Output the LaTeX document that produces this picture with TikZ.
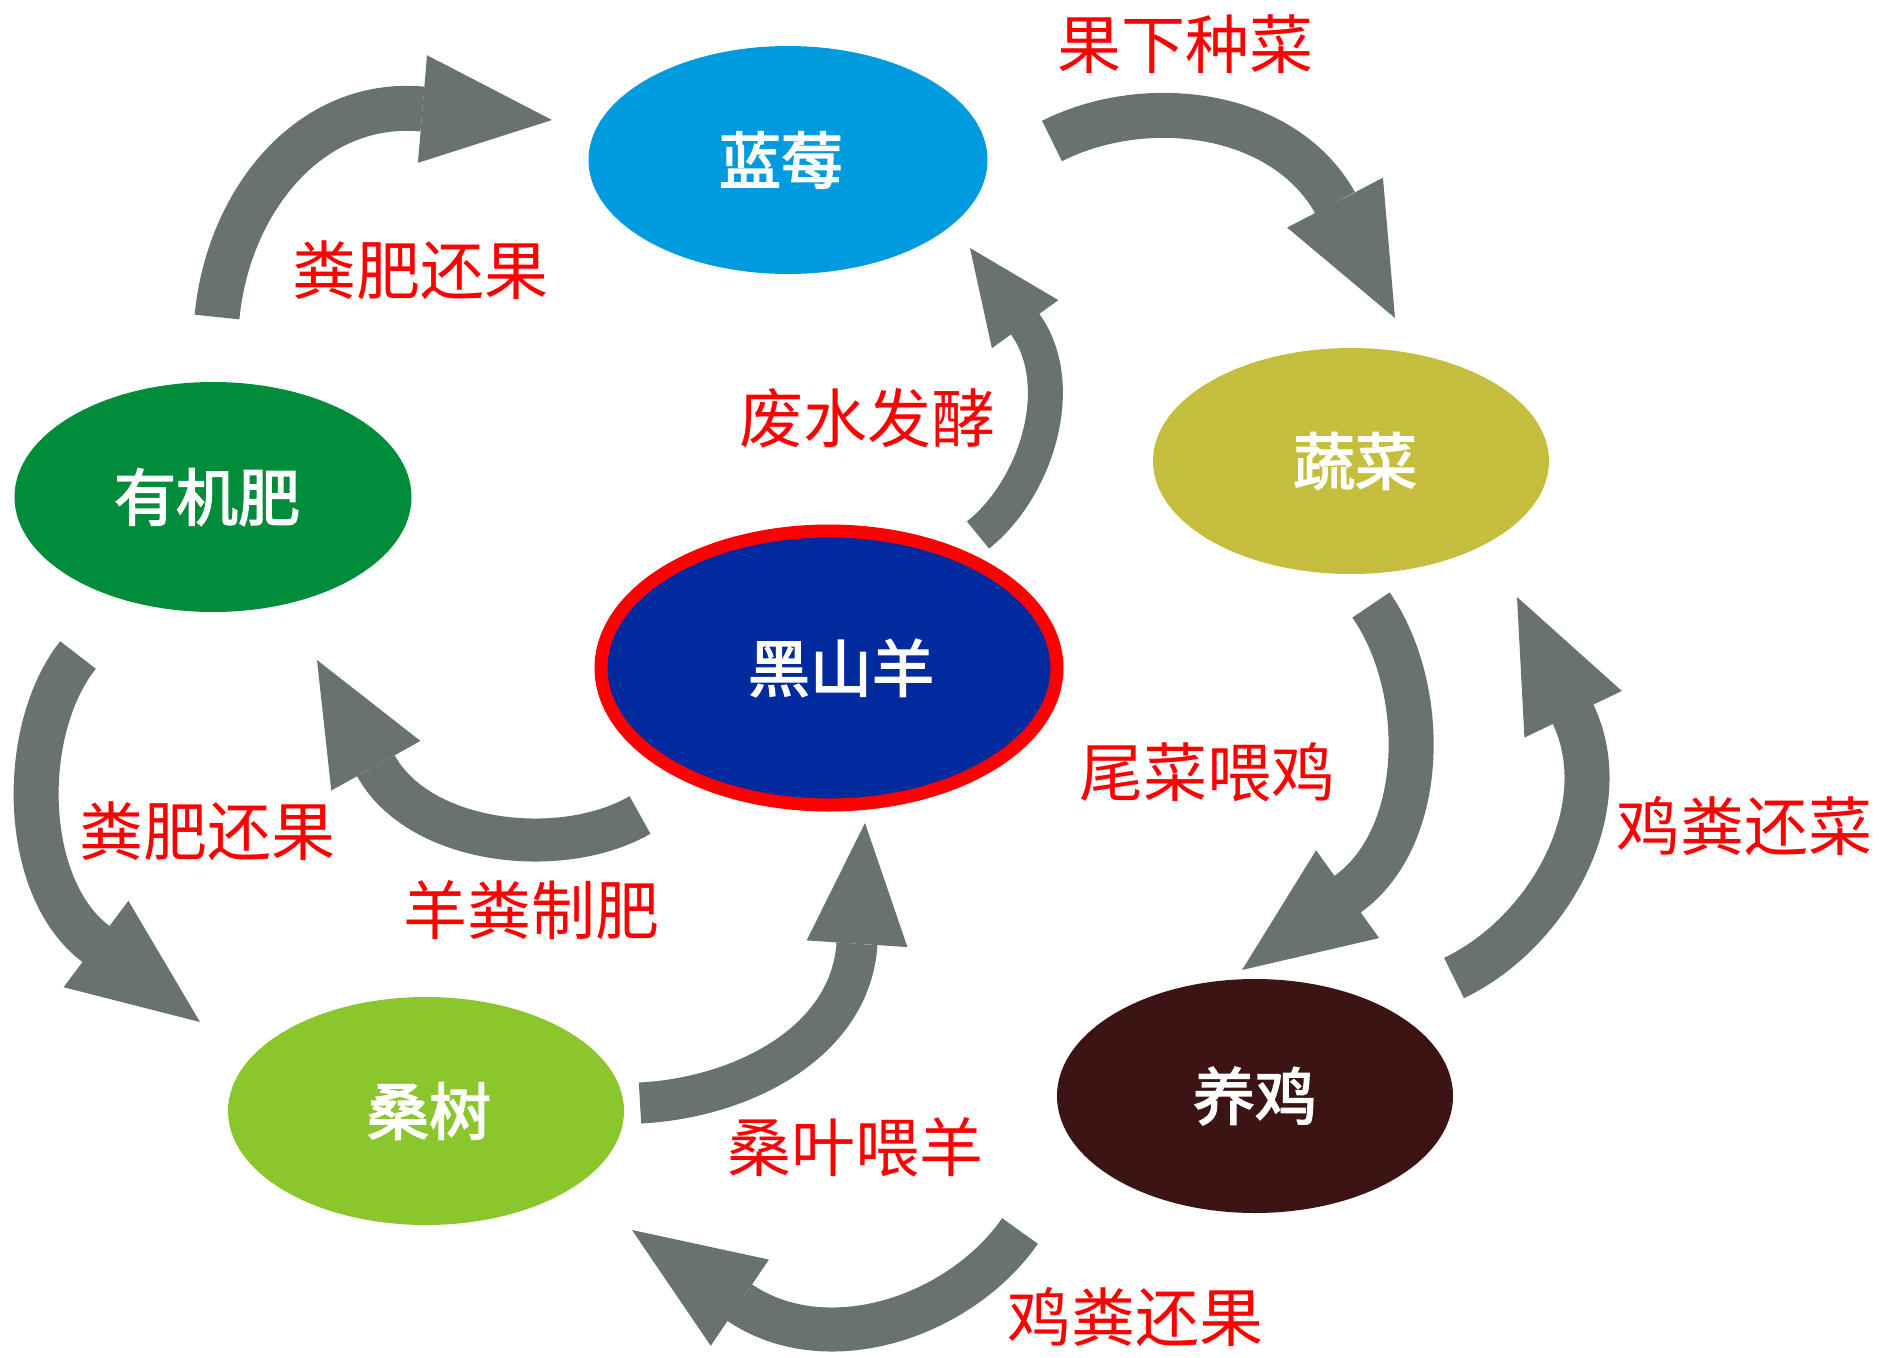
\documentclass[tikz,border=0pt]{standalone}
\usepackage{fontspec}
\newfontfamily\cjk{Noto Sans CJK SC}
\newfontfamily\cjkm{Noto Sans CJK SC}[FakeBold=2.6]
\usetikzlibrary{arrows.meta,shapes.geometric}
\definecolor{agray}{RGB}{104,114,111}
\definecolor{cBlue}{RGB}{0,155,223}
\definecolor{cOlive}{RGB}{197,189,62}
\definecolor{cGreen}{RGB}{0,140,58}
\definecolor{cNavy}{RGB}{0,42,158}
\definecolor{cLeaf}{RGB}{140,198,45}
\definecolor{cBrown}{RGB}{60,20,20}
\begin{document}
\begin{tikzpicture}[x=1pt,y=-1pt,
  blob/.style={ellipse, inner sep=0pt, text=white, font=\cjkm\fontsize{62}{70}\selectfont},
  lbl/.style={text=red, inner sep=0pt, font=\cjk\fontsize{64}{70}\selectfont},
  bigarrow/.style={draw=agray, line width=45pt, -{Triangle[length=130pt,width=108pt,line width=0pt]}},
]
\fill[white] (0,0) rectangle (1883,1358);
\useasboundingbox (0,0) rectangle (1883,1358);

% nodes
\node[blob, fill=cBlue,  minimum width=399pt, minimum height=228pt] (lanmei) at (788,160) {蓝莓\hspace*{14pt}};
\node[blob, fill=cOlive, minimum width=396pt, minimum height=226pt] (shucai) at (1351,461) {\hspace*{8pt}蔬菜};
\node[blob, fill=cGreen, minimum width=397pt, minimum height=230pt] (youji) at (213,497) {有机肥\hspace*{12pt}};
\node[blob, fill=cNavy, draw=red, line width=13pt, minimum width=456pt, minimum height=274pt] (yang) at (829,668) {\hspace*{24pt}黑山羊};
\node[blob, fill=cLeaf,  minimum width=396pt, minimum height=228pt] (sang) at (426,1111) {\hspace*{6pt}桑树};
\node[blob, fill=cBrown, minimum width=396pt, minimum height=234pt] (ji) at (1255,1096) {养鸡};

% arrow end points (tail, base of head, tip)
\coordinate (a1s) at (217,317);   \coordinate (a1b) at (422,109);    \coordinate (a1e) at (552,120);
\coordinate (a2s) at (1052,141);  \coordinate (a2b) at (1335,202.6); \coordinate (a2e) at (1395,318);
\coordinate (a3s) at (78,655);    \coordinate (a3b) at (96,944);     \coordinate (a3e) at (200,1022);
\coordinate (a4s) at (1371,605);  \coordinate (a4b) at (1347,894.6); \coordinate (a4e) at (1242,970);
\coordinate (a5s) at (1454,978);  \coordinate (a5b) at (1573,714);   \coordinate (a5e) at (1517,597);
\coordinate (a6s) at (1020,1231); \coordinate (a6b) at (740,1302.8); \coordinate (a6e) at (632,1230);
\coordinate (a7s) at (978,535);   \coordinate (a7b) at (1025,324);   \coordinate (a7e) at (970,248);
\coordinate (a8s) at (640,815);   \coordinate (a8b) at (376,766);    \coordinate (a8e) at (317,660);
\coordinate (a9s) at (640,1103);  \coordinate (a9b) at (857,943.8);  \coordinate (a9e) at (865,823);

% arrows
\draw[bigarrow] (a1s) .. controls (228,202) and (309,99) .. (a1b) -- (a1e);
\draw[bigarrow] (a2s) .. controls (1145,94) and (1283,110) .. (a2b) -- (a2e);
\draw[bigarrow] (a3s) .. controls (19,729) and (20,887) .. (a3b) -- (a3e);
\draw[bigarrow] (a4s) .. controls (1428,687) and (1428,837) .. (a4b) -- (a4e);
\draw[bigarrow] (a5s) .. controls (1548.5,933) and (1618,808.5) .. (a5b) -- (a5e);
\draw[bigarrow, line width=44pt, -{Triangle[length=130pt,width=104pt,line width=0pt]}] (a6s) .. controls (960,1317) and (827,1361.6) .. (a6b) -- (a6e);
\draw[bigarrow, line width=35pt, -{Triangle[length=94pt,width=82pt,line width=0pt]}] (a7s) .. controls (1036.5,488.5) and (1069,384.75) .. (a7b) -- (a7e);
\draw[bigarrow, line width=43pt, -{Triangle[length=121pt,width=102pt,line width=0pt]}] (a8s) .. controls (561.7,860) and (419.8,844.7) .. (a8b) -- (a8e);
\draw[bigarrow, line width=41pt, -{Triangle[length=121pt,width=101pt,line width=0pt]}] (a9s) .. controls (740,1098) and (850.4,1043.6) .. (a9b) -- (a9e);

% labels
\node[lbl] (l1) at (1185,44)  {果下种菜};
\node[lbl] (l2) at (420,270)  {粪肥还果};
\node[lbl] (l3) at (867,418)  {废水发酵};
\node[lbl] (l4) at (1207,772) {尾菜喂鸡};
\node[lbl] (l5) at (1744,826) {鸡粪还菜};
\node[lbl] (l6) at (207,831)  {粪肥还果};
\node[lbl] (l7) at (531,910)  {羊粪制肥};
\node[lbl] (l8) at (855,1147) {桑叶喂羊};
\node[lbl] (l9) at (1135,1317) {鸡粪还果};
\end{tikzpicture}
\end{document}
